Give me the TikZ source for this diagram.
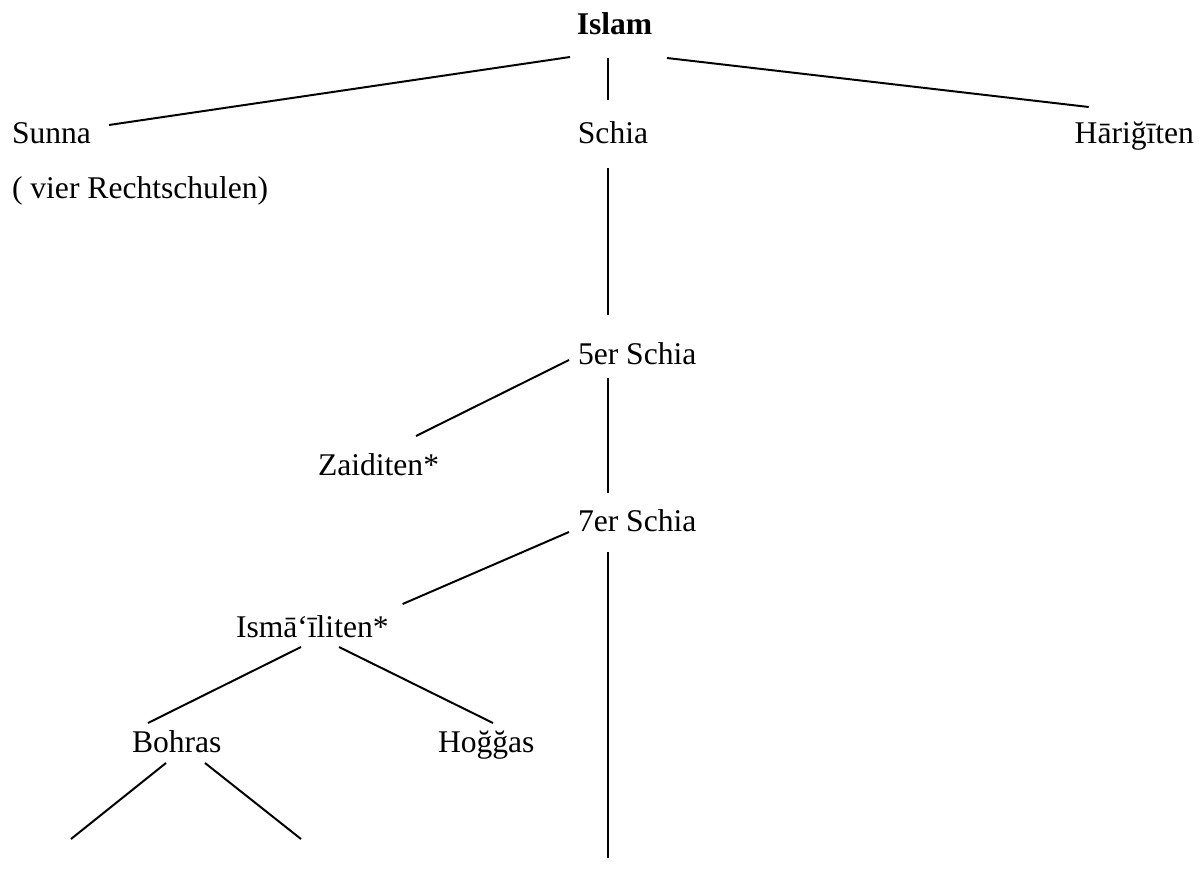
\documentclass[tikz,border=0pt]{standalone}
\usepackage{fontspec}
\setmainfont{Liberation Serif}
\usepackage{tikz}
\usetikzlibrary{positioning}

\begin{document}
\begin{tikzpicture}[x=0.013344cm,y=-0.013344cm,
lbl/.style={inner sep=0pt,outer sep=0pt,font=\fontsize{12pt}{14pt}\selectfont},
edge/.style={line width=0.75pt}]
\useasboundingbox (0,0) rectangle (1199,873);

% nodes
\node[lbl,anchor=base,font=\fontsize{12pt}{14pt}\selectfont\bfseries](islam) at (614.5,34){Islam};
\node[lbl,anchor=base west](sunna) at (12,143){Sunna};
\node[lbl,anchor=base](schia) at (613,143){Schia};
\node[lbl,anchor=base east](harig) at (1194,143){Hāriğīten};
\node[lbl,anchor=base west](rechts) at (12,198){( vier Rechtschulen)};

\node[lbl,anchor=base west](fuenf) at (578,364){5er Schia};
\node[lbl,anchor=base west](zaid) at (318,475){Zaiditen*};
\node[lbl,anchor=base west](sieben) at (578,531){7er Schia};
\node[lbl,anchor=base west](ismai) at (236,637){Ismā‘īliten*};
\node[lbl,anchor=base west](bohras) at (132,752){Bohras};
\node[lbl,anchor=base west](hoggas) at (438,752){Hoğğas};

% free ends
\coordinate (bl) at (71,839);
\coordinate (br) at (301,839);
\coordinate (end) at (608,858);

% edges
\draw[edge] ([shift={(-44.5,23)}]islam.base) -- ([shift={(18,-18)}]sunna.base east);
\draw[edge] ([shift={(-6.5,24)}]islam.base) -- ([shift={(-5,-43)}]schia.base);
\draw[edge] ([shift={(52.5,24)}]islam.base) -- ([shift={(14,-36)}]harig.base west);
\draw[edge] ([shift={(-5,25)}]schia.base) -- ([shift={(30,-49)}]fuenf.base west);
\draw[edge] ([shift={(-9,-4)}]fuenf.base west) -- ([shift={(-23,-39)}]zaid.base east);
\draw[edge] ([shift={(30,14)}]fuenf.base west) -- ([shift={(30,-38)}]sieben.base west);
\draw[edge] ([shift={(-9,1)}]sieben.base west) -- ([shift={(14,-33)}]ismai.base east);
\draw[edge] ([shift={(30,21)}]sieben.base west) -- (end);
\draw[edge] ([shift={(65,10)}]ismai.base west) -- ([shift={(16,-29)}]bohras.base west);
\draw[edge] ([shift={(103,10)}]ismai.base west) -- ([shift={(55,-29)}]hoggas.base west);
\draw[edge] ([shift={(34,11)}]bohras.base west) -- (bl);
\draw[edge] ([shift={(73,11)}]bohras.base west) -- (br);
\end{tikzpicture}
\end{document}
